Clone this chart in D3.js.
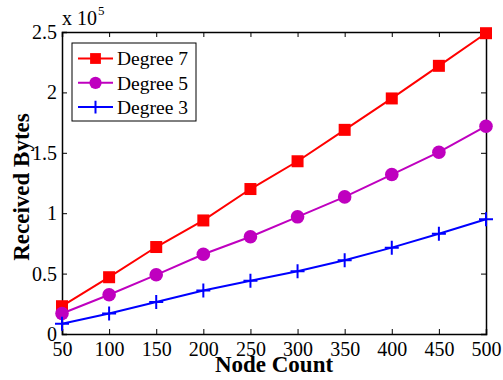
<!DOCTYPE html>
<html>
<head>
<meta charset="utf-8">
<script src="https://cdn.jsdelivr.net/npm/d3@7"></script>
<style>
  html, body { margin: 0; padding: 0; background: #fff; }
  svg { display: block; }
  svg text { font-family: "Liberation Serif", "Times New Roman", Times, serif; }
</style>
</head>
<body>
<svg id="chart" width="503" height="380"></svg>
<script>
// Received bytes (in units of 1e5) versus node count for three node degrees
const nodeCounts = [50, 100, 150, 200, 250, 300, 350, 400, 450, 500];
const degree7 = [0.23, 0.47, 0.72, 0.94, 1.20, 1.43, 1.69, 1.95, 2.22, 2.49];
const degree5 = [0.17, 0.325, 0.49, 0.66, 0.805, 0.97, 1.135, 1.32, 1.505, 1.72];
const degree3 = [0.085, 0.17, 0.265, 0.36, 0.44, 0.52, 0.61, 0.715, 0.83, 0.95];
const yTicks = [0, 0.5, 1, 1.5, 2, 2.5];
const xTicks = nodeCounts;
const seriesNames = ["Degree 7", "Degree 5", "Degree 3"];

const series = [
  { name: seriesNames[0], values: degree7, color: "#ff0000", marker: "square" },
  { name: seriesNames[1], values: degree5, color: "#bf00bf", marker: "circle" },
  { name: seriesNames[2], values: degree3, color: "#0000ff", marker: "plus" }
];

const FONT = '"Liberation Serif", "Times New Roman", Times, serif';
const svg = d3.select("#chart");
const m = { left: 62, right: 17, top: 32, bottom: 46 };
const W = 503, H = 380;
const x = d3.scaleLinear().domain([50, 500]).range([m.left, W - m.right]);
const y = d3.scaleLinear().domain([0, 2.5]).range([H - m.bottom, m.top]);

const tickLen = 5;
const fs = 20;

// Axes with inward ticks, mirrored on top and right
const gx = svg.append("g").attr("transform", `translate(0,${y(0)})`)
  .call(d3.axisBottom(x).tickValues(xTicks).tickSize(-tickLen).tickPadding(8).tickFormat(d3.format("d")));
const gxTop = svg.append("g").attr("transform", `translate(0,${y(2.5)})`)
  .call(d3.axisTop(x).tickValues(xTicks).tickSize(-tickLen).tickFormat(""));
const gy = svg.append("g").attr("transform", `translate(${x(50)},0)`)
  .call(d3.axisLeft(y).tickValues(yTicks).tickSize(-tickLen).tickPadding(5).tickFormat(d => String(d)));
const gyRight = svg.append("g").attr("transform", `translate(${x(500)},0)`)
  .call(d3.axisRight(y).tickValues(yTicks).tickSize(-tickLen).tickFormat(""));

[gx, gxTop, gy, gyRight].forEach(g => {
  g.attr("font-family", FONT).attr("font-size", fs);
  g.select(".domain").attr("stroke", "#000").attr("stroke-width", 1.5);
  g.selectAll(".tick line").attr("stroke", "#000").attr("stroke-width", 1);
  g.selectAll("text").attr("fill", "#000").attr("font-family", FONT).attr("font-size", fs);
});
gx.selectAll("text").attr("dy", "0.71em");

// Exponent label above the y axis
const expo = svg.append("text").attr("x", 62).attr("y", 25)
  .attr("font-family", FONT).attr("font-size", fs).attr("fill", "#000");
expo.append("tspan").text("x 10");
expo.append("tspan").attr("dy", -10).attr("dx", 1).attr("font-size", 13).text("5");

// Axis titles
svg.append("text").attr("x", 274).attr("y", 372).attr("text-anchor", "middle")
  .attr("font-family", FONT).attr("font-size", 23).attr("font-weight", "bold").attr("fill", "#000").text("Node Count");
svg.append("text").attr("transform", `translate(29,${187}) rotate(-90)`).attr("text-anchor", "middle")
  .attr("font-family", FONT).attr("font-size", 23).attr("font-weight", "bold").attr("fill", "#000").text("Received Bytes");

// Marker drawing helper
function drawMarker(g, type, color, k = 1) {
  if (type === "square") {
    g.append("rect").attr("x", -6 * k).attr("y", -6 * k).attr("width", 12 * k).attr("height", 12 * k).attr("fill", color);
  } else if (type === "circle") {
    g.append("circle").attr("r", 6.8 * k).attr("fill", color);
  } else {
    g.append("path").attr("d", `M${-7 * k},0H${7 * k}M0,${-7 * k}V${7 * k}`)
      .attr("stroke", color).attr("stroke-width", 2).attr("fill", "none");
  }
}

const line = d3.line().x((d, i) => x(nodeCounts[i])).y(d => y(d));
const plot = svg.append("g");
series.forEach(s => {
  plot.append("path").datum(s.values).attr("d", line)
    .attr("fill", "none").attr("stroke", s.color).attr("stroke-width", 2);
  s.values.forEach((v, i) => {
    const g = plot.append("g").attr("transform", `translate(${x(nodeCounts[i])},${y(v)})`);
    drawMarker(g, s.marker, s.color);
  });
});

// Legend
const leg = svg.append("g").attr("transform", "translate(72,43)");
leg.append("rect").attr("width", 124).attr("height", 78).attr("fill", "#fff").attr("stroke", "#000").attr("stroke-width", 1);
series.forEach((s, i) => {
  const cy = 15.5 + i * 24.3;
  leg.append("line").attr("x1", 6).attr("x2", 41).attr("y1", cy).attr("y2", cy)
    .attr("stroke", s.color).attr("stroke-width", 2);
  const mg = leg.append("g").attr("transform", `translate(23.5,${cy})`);
  drawMarker(mg, s.marker, s.color, 0.9);
  leg.append("text").attr("x", 45).attr("y", cy).attr("dy", "0.35em")
    .attr("font-family", FONT).attr("font-size", 19.5).attr("fill", "#000").text(s.name);
});
</script>
</body>
</html>
